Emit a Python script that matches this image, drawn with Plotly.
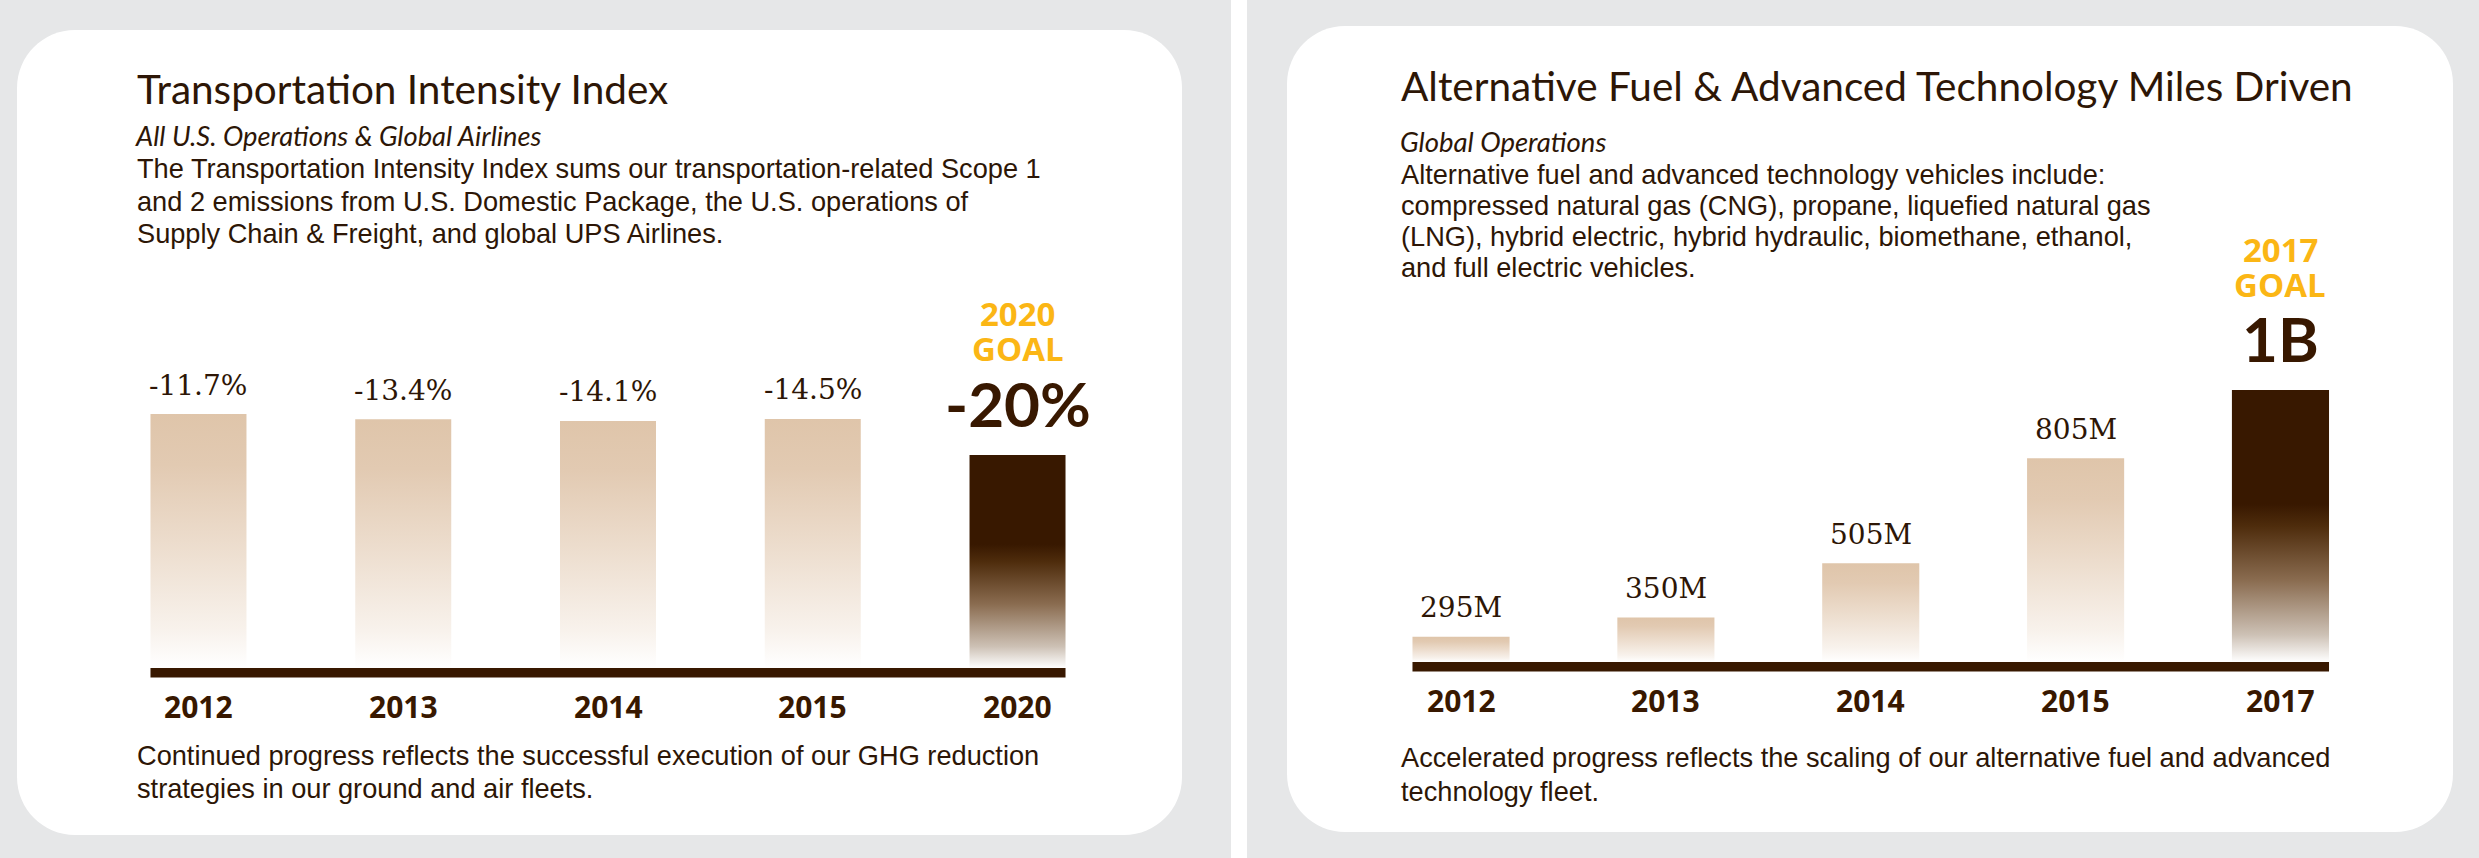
import plotly.graph_objects as go

# ---- data ----
tii_years = ['2012', '2013', '2014', '2015', '2020']
tii_labels = ['-11.7%', '-13.4%', '-14.1%', '-14.5%', '-20%']
tii_bar = [88.3, 86.5, 85.9, 86.6, 74.1]  # bar heights as drawn (index points)

afv_years = ['2012', '2013', '2014', '2015', '2017']
afv_miles = [295, 350, 505, 805, 1000]  # millions of miles
afv_labels = ['295M', '350M', '505M', '805M', '1B']

tii_title = 'Transportation Intensity Index'
tii_sub = 'All U.S. Operations & Global Airlines'
tii_body = ['The Transportation Intensity Index sums our transportation-related Scope 1',
            'and 2 emissions from U.S. Domestic Package, the U.S. operations of',
            'Supply Chain & Freight, and global UPS Airlines.']
tii_note = ['Continued progress reflects the successful execution of our GHG reduction',
            'strategies in our ground and air fleets.']

afv_title = 'Alternative Fuel & Advanced Technology Miles Driven'
afv_sub = 'Global Operations'
afv_body = ['Alternative fuel and advanced technology vehicles include:',
            'compressed natural gas (CNG), propane, liquefied natural gas',
            '(LNG), hybrid electric, hybrid hydraulic, biomethane, ethanol,',
            'and full electric vehicles.']
afv_note = ['Accelerated progress reflects the scaling of our alternative fuel and advanced',
            'technology fleet.']

# ---- styling ----
W, H = 2479, 858
BG = '#e6e7e8'
BROWN = '#381800'
INK = '#2d1606'
GOLD = '#fbb615'
HEAD = 'Lato, Liberation Sans, sans-serif'
BODY = 'Liberation Sans, Arial, sans-serif'
SERIF = 'DejaVu Serif, serif'
BOLD = 'Open Sans, Noto Sans, sans-serif'
BODY_SIZE = 27.2

TAN_SCALE = [[0, '#ffffff'], [0.15, '#f8f2ec'], [0.5, '#ecdccc'], [0.8, '#e2cab2'], [1, '#dfc5aa']]
GOAL_SCALE = [[0, '#ffffff'], [0.1, '#cdc1b5'], [0.3, '#8a6c50'], [0.5, '#4e2c0c'],
              [0.58, BROWN], [1, BROWN]]


def px(x):
  return x / W


def py(y):
  return 1 - y / H


def rounded_rect(x0, y0, x1, y1, r):
  k = 0.5523 * r
  pts = [
    ('M', [(x0 + r, y0)]),
    ('L', [(x1 - r, y0)]),
    ('C', [(x1 - r + k, y0), (x1, y0 + r - k), (x1, y0 + r)]),
    ('L', [(x1, y1 - r)]),
    ('C', [(x1, y1 - r + k), (x1 - r + k, y1), (x1 - r, y1)]),
    ('L', [(x0 + r, y1)]),
    ('C', [(x0 + r - k, y1), (x0, y1 - r + k), (x0, y1 - r)]),
    ('L', [(x0, y0 + r)]),
    ('C', [(x0, y0 + r - k), (x0 + r - k, y0), (x0 + r, y0)]),
  ]
  s = ''
  for cmd, ps in pts:
    s += cmd + ' ' + ' '.join(f'{px(a):.5f},{py(b):.5f}' for a, b in ps) + ' '
  return s + 'Z'


fig = go.Figure()
shapes = []
annotations = []

# panels
shapes.append(dict(type='rect', xref='paper', yref='paper', x0=px(1231), x1=px(1247), y0=0, y1=1,
                   fillcolor='white', line_width=0, layer='below'))
shapes.append(dict(type='path', xref='paper', yref='paper', path=rounded_rect(17, 30, 1182, 835, 58),
                   fillcolor='white', line_width=0, layer='below'))
shapes.append(dict(type='path', xref='paper', yref='paper', path=rounded_rect(1287, 26, 2453, 832, 58),
                   fillcolor='white', line_width=0, layer='below'))


def text(x, y, s, size, family=BODY, color=INK, weight='normal', style='normal'):
  annotations.append(dict(x=px(x), y=py(y), xref='paper', yref='paper', text=s, showarrow=False,
                          xanchor='left', yanchor='middle', borderpad=0,
                          font=dict(family=family, size=size, color=color, weight=weight, style=style)))


def block(x, first_y, step, lines):
  # one annotation per line: the reference sets its lines tighter than plotly's <br>
  for j, line in enumerate(lines):
    text(x, first_y + step * j, line, BODY_SIZE)


ybase = {'y': 0, 'y2': 223}


def panel(xa, ya, years, heights, labels, half_w, base_px, years_px):
  n = len(years)
  b = ybase[ya]
  for i, v in enumerate(heights):
    goal = i == n - 1
    fig.add_trace(go.Scatter(
      x=[i - half_w, i + half_w, i + half_w, i - half_w, i - half_w],
      y=[b, b, v, v, b],
      xaxis=xa, yaxis=ya, mode='lines', fill='toself',
      line=dict(width=0, color='rgba(0,0,0,0)'),
      fillgradient=dict(type='vertical', colorscale=GOAL_SCALE if goal else TAN_SCALE),
      hoverinfo='skip', showlegend=False))
    ref = dict(xref=xa, yref=ya, x=i, y=v, showarrow=False, xanchor='center', yanchor='middle')
    if goal:
      annotations.append(dict(ref, text=years[i], yshift=141,
                              font=dict(family=BOLD, size=33, color=GOLD, weight='bold')))
      annotations.append(dict(ref, text='GOAL', yshift=106,
                              font=dict(family=BOLD, size=33, color=GOLD, weight='bold')))
      annotations.append(dict(ref, text=labels[i], yshift=52,
                              font=dict(family=HEAD, size=62, color=BROWN, weight='bold')))
    else:
      annotations.append(dict(ref, text=labels[i], yshift=29,
                              font=dict(family=SERIF, size=28, color=INK)))
    annotations.append(dict(xref=xa, yref='paper', x=i, y=py(years_px), text=years[i], showarrow=False,
                            xanchor='center', yanchor='middle',
                            font=dict(family=BOLD, size=30, color=BROWN, weight='bold')))
  # baseline bar
  shapes.append(dict(type='rect', xref=xa, yref='paper', x0=-half_w, x1=n - 1 + half_w,
                     y0=py(base_px + 9.5), y1=py(base_px), fillcolor=BROWN, line_width=0))


# left chart: centres 198.5 .. 1017.5 px, spacing ~204.75 px
panel('x', 'y', tii_years, tii_bar, tii_labels, 0.2344, 668, 706.5)
# right chart: centres 1461 .. 2280.5 px
panel('x2', 'y2', afv_years, afv_miles, afv_labels, 0.237, 662, 700)

# text blocks
text(136, 88.5, tii_title, 40.5, family=HEAD)
text(134, 136, tii_sub, 27.3, family=HEAD, style='italic')
block(136, 168.5, 32.5, tii_body)
block(136, 755, 33, tii_note)

text(1400, 85, afv_title, 40.5, family=HEAD)
text(1399, 141, afv_sub, 27.5, family=HEAD, style='italic')
block(1400, 174.5, 31, afv_body)
block(1400, 757, 34, afv_note)

hidden = dict(visible=False, showgrid=False, zeroline=False, fixedrange=True)
fig.update_layout(
  width=W, height=H, margin=dict(l=0, r=0, t=0, b=0),
  paper_bgcolor=BG, plot_bgcolor='rgba(0,0,0,0)',
  shapes=shapes, annotations=annotations, showlegend=False,
  xaxis=dict(hidden, domain=[px(96.1), px(1119.9)], range=[-0.5, 4.5]),
  yaxis=dict(hidden, domain=[py(668), py(380.4)], range=[0, 100]),
  xaxis2=dict(hidden, domain=[px(1358.6), px(2382.9)], range=[-0.5, 4.5]),
  yaxis2=dict(hidden, domain=[py(662), py(355)], range=[223, 1100]),
)

fig.write_html('out.html', config={'displayModeBar': False},
               post_script="document.body.style.margin='0';document.body.style.overflow='hidden';")
